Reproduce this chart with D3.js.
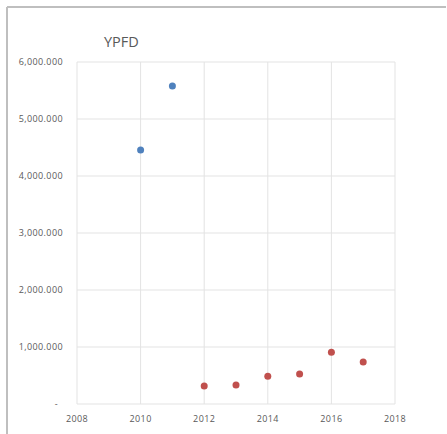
<!DOCTYPE html>
<meta charset="utf-8">
<style>
  body { margin: 0; background: #fff; }
  text { font-family: "Open Sans", "Noto Sans", sans-serif; fill: #595959; }
</style>
<div id="chart"></div>
<script src="https://cdn.jsdelivr.net/npm/d3@7"></script>
<script>

var blueYears = [2010, 2011],
    blueValues = [4456000, 5579000];

var redYears = [2012, 2013, 2014, 2015, 2016, 2017],
    redValues = [316000, 333000, 486000, 526000, 907000, 737000];

var xTicks = [2008, 2010, 2012, 2014, 2016, 2018],
    yTicks = [0, 1000000, 2000000, 3000000, 4000000, 5000000, 6000000];

var W = 447, H = 434;
var margin = {top: 62, right: 52, bottom: 30, left: 77},
    width = W - margin.left - margin.right,
    height = H - margin.top - margin.bottom;

var svg = d3.select("#chart")
  .append("svg")
    .attr("width", W)
    .attr("height", H);

// frame (only left + top edges visible)
svg.append("line").attr("x1", 7).attr("x2", 7).attr("y1", 7).attr("y2", H)
  .attr("stroke", "#bfbfbf").attr("stroke-width", 2);
svg.append("line").attr("x1", 7).attr("x2", 446).attr("y1", 7).attr("y2", 7)
  .attr("stroke", "#bfbfbf").attr("stroke-width", 2);

svg.append("text")
  .attr("x", 104).attr("y", 47)
  .style("font-size", "14.5px")
  .text("YPFD");

var g = svg.append("g")
  .attr("transform", "translate(" + margin.left + "," + margin.top + ")");

var x = d3.scaleLinear().domain([2008, 2018]).range([0, width]);
var y = d3.scaleLinear().domain([0, 6000000]).range([height, 0]);

var fmt = function(d) {
  return d === 0 ? "-" : d3.format(",")(d / 1000) + ".000";
};

// gridlines
g.selectAll(".vgrid").data(xTicks).enter().append("line")
  .attr("x1", function(d) { return x(d); })
  .attr("x2", function(d) { return x(d); })
  .attr("y1", 0).attr("y2", height)
  .attr("stroke", "#e3e3e3").attr("stroke-width", 1);

g.selectAll(".hgrid").data(yTicks).enter().append("line")
  .attr("x1", 0).attr("x2", width)
  .attr("y1", function(d) { return y(d); })
  .attr("y2", function(d) { return y(d); })
  .attr("stroke", "#e3e3e3").attr("stroke-width", 1);

// y labels
g.selectAll(".ylab").data(yTicks).enter().append("text")
  .attr("x", function(d) { return d === 0 ? -19 : -14; })
  .attr("y", function(d) { return y(d); })
  .attr("dy", "0.35em")
  .attr("text-anchor", "end")
  .style("font-size", "9px")
  .style("letter-spacing", "0.4px")
  .text(fmt);

// x labels
g.selectAll(".xlab").data(xTicks).enter().append("text")
  .attr("x", function(d) { return x(d); })
  .attr("y", height + 18)
  .attr("text-anchor", "middle")
  .style("font-size", "9px")
  .style("letter-spacing", "0.4px")
  .text(function(d) { return d; });

// points
g.selectAll(".blue").data(blueYears).enter().append("circle")
  .attr("cx", function(d) { return x(d); })
  .attr("cy", function(d, i) { return y(blueValues[i]); })
  .attr("r", 3.5)
  .attr("fill", "#4f81bd");

g.selectAll(".red").data(redYears).enter().append("circle")
  .attr("cx", function(d) { return x(d); })
  .attr("cy", function(d, i) { return y(redValues[i]); })
  .attr("r", 3.5)
  .attr("fill", "#c0504d");

</script>
